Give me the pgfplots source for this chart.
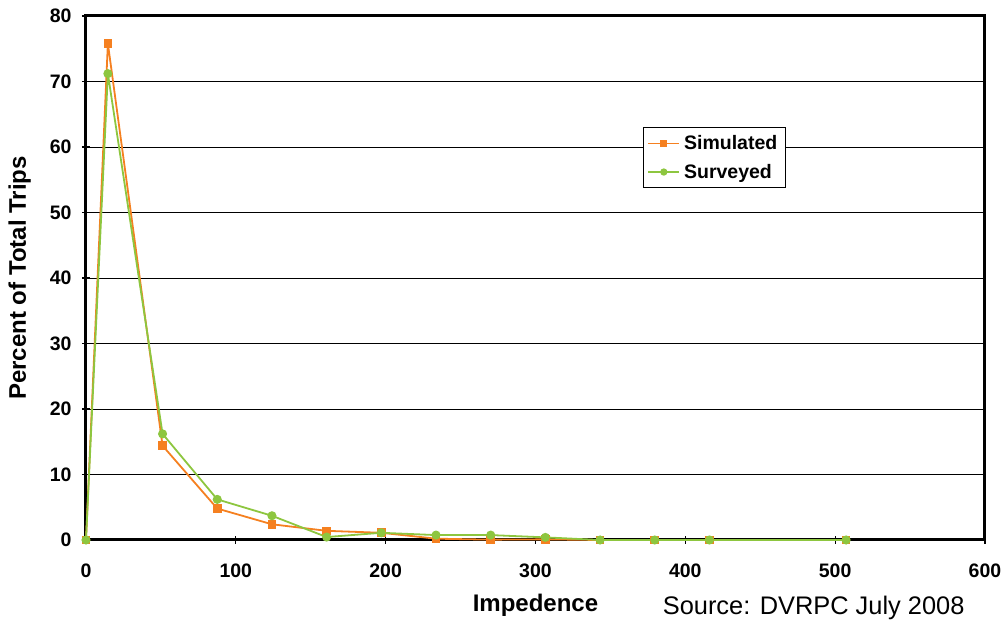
\documentclass[border=0pt]{standalone}
\usepackage{fontspec}
\setmainfont{Liberation Sans}
\usepackage{pgfplots}
\pgfplotsset{compat=1.18}

\definecolor{simorange}{RGB}{245,128,32}
\definecolor{surgreen}{RGB}{141,198,63}

\begin{document}
\begin{tikzpicture}
\useasboundingbox (-86pt,-88pt) rectangle (919pt,540pt);
\begin{axis}[
  at={(0pt,0pt)}, anchor=south west,
  scale only axis,
  width=899pt, height=524pt,
  xmin=0, xmax=600, ymin=0, ymax=80,
  xtick={0,100,...,600}, ytick={0,10,...,80},
  xtick pos=bottom, ytick pos=left,
  tick align=center,
  major tick length=8pt,
  tick style={black, line width=1.2pt},
  axis line style={black, line width=3pt},
  ymajorgrids,
  grid style={black, line width=0.9pt},
  /pgf/number format/assume math mode=true,
  ticklabel style={font=\fontsize{19.5}{22}\selectfont\bfseries},
  xticklabel style={yshift=-16pt},
  yticklabel style={xshift=-7pt},
  xlabel={Impedence},
  ylabel={Percent of Total Trips},
  label style={font=\fontsize{24}{28}\selectfont\bfseries},
  xlabel style={yshift=-10pt},
  ylabel style={yshift=12pt},
  legend style={at={(0.6196,0.788)}, anchor=north west,
    draw=black, line width=1pt, fill=white,
    font=\fontsize{19.5}{23}\selectfont\bfseries,
    row sep=11pt, inner xsep=4pt, inner ysep=7pt,
    nodes={inner xsep=4pt, inner ysep=1pt}},
  legend cell align=left,
  legend image code/.code={
    \draw[#1, line width=1.6pt] (0pt,0pt) -- (31pt,0pt);
    \draw[#1, only marks, mark options={scale=0.75}] plot coordinates {(15.5pt,0pt)};
  },
  clip=false,
]
\addplot[simorange, line width=1.8pt, mark=square*, mark size=3.4pt,
  mark options={solid, fill=simorange}]
  coordinates {
  (0,0) (14.6,75.8) (51.1,14.4) (87.6,4.8) (124.1,2.4) (160.6,1.4)
  (197.1,1.1) (233.6,0.2) (270.1,0.05) (306.6,0.1) (343.1,0)
  (379.6,0) (416.1,0) (507.3,0)
  };
\addlegendentry{Simulated}
\addplot[surgreen, line width=1.8pt, mark=*, mark size=3.6pt,
  mark options={solid, fill=surgreen}]
  coordinates {
  (0,0) (14.6,71.2) (51.1,16.2) (87.6,6.2) (124.1,3.7) (160.6,0.45)
  (197.1,1.1) (233.6,0.75) (270.1,0.75) (306.6,0.4) (343.1,0)
  (379.6,0) (416.1,0) (507.3,0)
  };
\addlegendentry{Surveyed}
\end{axis}
\node[anchor=base east, font=\fontsize{25.4}{30}\selectfont] at (882pt,-75pt) {Source: DVRPC July 2008};
\end{tikzpicture}
\end{document}
